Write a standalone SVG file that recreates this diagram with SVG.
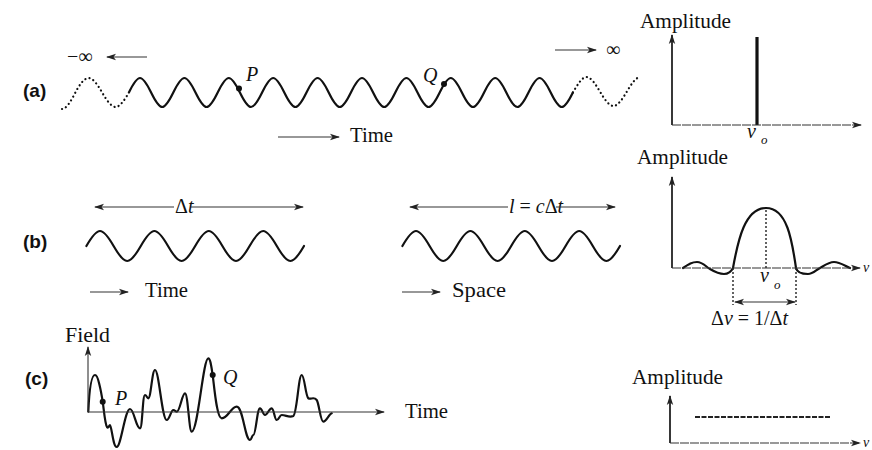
<svg xmlns="http://www.w3.org/2000/svg" width="872" height="450" viewBox="0 0 872 450">
<style>
.lbl{font-family:"Liberation Sans",Arial,sans-serif;font-weight:bold;font-size:19px;fill:#111}
.t{font-family:"Liberation Serif","Times New Roman",serif;font-size:21px;fill:#111}
.m{font-family:"Liberation Serif","Times New Roman",serif;font-size:20px;fill:#111}
.i{font-style:italic}
.sub{font-family:"Liberation Serif","Times New Roman",serif;font-size:13px;font-style:italic;fill:#111}
.edge{font-family:"Liberation Serif","Times New Roman",serif;font-size:14px;font-style:italic;fill:#111}
.wave{fill:none;stroke:#111;stroke-width:2.2;stroke-linecap:round;stroke-linejoin:round}
.dot{fill:none;stroke:#111;stroke-width:2.2;stroke-linecap:round;stroke-dasharray:0.1 4.2}
.ax{fill:none;stroke:#222;stroke-width:1.8}
.axh{fill:none;stroke:#333;stroke-width:1.2;stroke-dasharray:9 1}
.thin{fill:none;stroke:#333;stroke-width:1.1}
.vd{fill:none;stroke:#222;stroke-width:1.4;stroke-dasharray:2 2}
.pt{fill:#111}
</style>
<defs>
<marker id="ah" viewBox="0 0 10 8" refX="9" refY="4" markerWidth="10" markerHeight="8" markerUnits="userSpaceOnUse" orient="auto-start-reverse">
<path d="M0,0.8 L10,4 L0,7.2 L2.5,4z" fill="#222"/>
</marker>
</defs>

<g id="panel-a">
<text class="lbl" x="23" y="97">(a)</text>
<text class="m" x="67" y="63">−∞</text>
<text class="m" x="606" y="56">∞</text>
<path class="wave" d="M128.9,92.5 c3.62,-7.43 7.48,-14.5 11.1,-14.5
s7.48,7.07 11.1,14.5 s7.48,14.5 11.1,14.5 s7.48,-7.07 11.1,-14.5 s7.48,-14.5 11.1,-14.5
s7.48,7.07 11.1,14.5 s7.48,14.5 11.1,14.5 s7.48,-7.07 11.1,-14.5 s7.48,-14.5 11.1,-14.5
s7.48,7.07 11.1,14.5 s7.48,14.5 11.1,14.5 s7.48,-7.07 11.1,-14.5 s7.48,-14.5 11.1,-14.5
s7.48,7.07 11.1,14.5 s7.48,14.5 11.1,14.5 s7.48,-7.07 11.1,-14.5 s7.48,-14.5 11.1,-14.5
s7.48,7.07 11.1,14.5 s7.48,14.5 11.1,14.5 s7.48,-7.07 11.1,-14.5 s7.48,-14.5 11.1,-14.5
s7.48,7.07 11.1,14.5 s7.48,14.5 11.1,14.5 s7.48,-7.07 11.1,-14.5 s7.48,-14.5 11.1,-14.5
s7.48,7.07 11.1,14.5 s7.48,14.5 11.1,14.5 s7.48,-7.07 11.1,-14.5 s7.48,-14.5 11.1,-14.5
s7.48,7.07 11.1,14.5 s7.48,14.5 11.1,14.5 s7.48,-7.07 11.1,-14.5 s7.48,-14.5 11.1,-14.5
s7.48,7.07 11.1,14.5 s7.48,14.5 11.1,14.5 s7.48,-7.07 11.1,-14.5 s7.48,-14.5 11.1,-14.5
s7.48,7.07 11.1,14.5 s7.48,14.5 11.1,14.5 s7.48,-7.07 11.1,-14.5"/>
<path class="dot" d="M62,109 c4.36,0 9.02,-8.07 13.38,-16.5 s9.02,-14.5 13.38,-14.5 s9.02,7.07 13.38,14.5 s9.02,14.5 13.38,14.5 s9.02,-7.07 13.38,-14.5"/>
<path class="dot" d="M572.9,92.5 c4.4,-7.43 9.1,-15.5 13.5,-15.5 s9.1,7.07 13.5,14.5 s9.1,14.5 13.5,14.5 s9.1,-7.07 13.5,-14.5 s9.1,-14.5 13.5,-14.5"/>
<circle class="pt" cx="239" cy="88.5" r="3"/>
<circle class="pt" cx="444" cy="84" r="3"/>
<text class="m i" x="246" y="81">P</text>
<text class="m i" x="423" y="82">Q</text>
<text class="t" x="350" y="142" textLength="43" lengthAdjust="spacingAndGlyphs">Time</text>
</g>

<g id="spectrum-a">
<text class="t" x="640" y="28" textLength="91" lengthAdjust="spacingAndGlyphs">Amplitude</text>
<line x1="757" y1="37" x2="757" y2="125" stroke="#111" stroke-width="3.2"/>
<text class="m i" x="747" y="138">v</text>
<text class="sub" x="761" y="144">o</text>
</g>

<g id="panel-b">
<text class="lbl" x="23" y="248">(b)</text>
<path class="wave" d="M86.4,246 c4.435,-7.685 9.165,-15 13.6,-15
s9.165,7.315 13.6,15 s9.165,15 13.6,15 s9.165,-7.315 13.6,-15 s9.165,-15 13.6,-15
s9.165,7.315 13.6,15 s9.165,15 13.6,15 s9.165,-7.315 13.6,-15 s9.165,-15 13.6,-15
s9.165,7.315 13.6,15 s9.165,15 13.6,15 s9.165,-7.315 13.6,-15 s9.165,-15 13.6,-15
s9.165,7.315 13.6,15 s9.165,15 13.6,15 s9.165,-7.315 13.6,-15"/>
<path class="wave" d="M402.4,246 c4.435,-7.685 9.165,-15 13.6,-15
s9.165,7.315 13.6,15 s9.165,15 13.6,15 s9.165,-7.315 13.6,-15 s9.165,-15 13.6,-15
s9.165,7.315 13.6,15 s9.165,15 13.6,15 s9.165,-7.315 13.6,-15 s9.165,-15 13.6,-15
s9.165,7.315 13.6,15 s9.165,15 13.6,15 s9.165,-7.315 13.6,-15 s9.165,-15 13.6,-15
s9.165,7.315 13.6,15 s9.165,15 13.6,15 s9.165,-7.315 13.6,-15"/>
<text class="m" x="175" y="213">Δ<tspan class="i">t</tspan></text>
<text class="m" x="509" y="213"><tspan class="i">l</tspan> = <tspan class="i">c</tspan>Δ<tspan class="i">t</tspan></text>
<text class="t" x="145" y="297" textLength="43" lengthAdjust="spacingAndGlyphs">Time</text>
<text class="t" x="452" y="297" textLength="54" lengthAdjust="spacingAndGlyphs">Space</text>
</g>

<g id="spectrum-b">
<text class="t" x="637" y="164" textLength="91" lengthAdjust="spacingAndGlyphs">Amplitude</text>
<path class="wave" d="M683,268 C689,264 692,262 697,262 C703,262 706,267 710,269 C715,272 719,274 724,274 C728,274 731,272 733,268 C738,240 745,208 766,208 C787,208 792,240 796,268 C797,272 800,274 808,274 C813,274 816,270 820,268 C825,265 829,262 834,262 C840,262 845,266 850,268"/>
<line class="vd" x1="766" y1="210" x2="766" y2="268"/>
<line class="vd" x1="733" y1="268" x2="733" y2="305"/>
<line class="vd" x1="796" y1="268" x2="796" y2="305"/>
<text class="m i" x="760" y="282">v</text>
<text class="sub" x="774" y="289">o</text>
<text class="m" x="711" y="325">Δ<tspan class="i">v</tspan> = 1/Δ<tspan class="i">t</tspan></text>
<text class="edge" x="863" y="272">v</text>
</g>

<g id="panel-c">
<text class="lbl" x="25" y="385">(c)</text>
<text class="t" x="65" y="342" textLength="45" lengthAdjust="spacingAndGlyphs">Field</text>
<path class="wave" d="M88.3,411.7 C89.3,390 91.5,375 95,375 C97.5,375 98.5,381 99.5,385 C100.5,389 101.8,396 102.7,401.7 C103.8,409 105,424 107,427 C108.5,429 109,425 110,425 C111.5,425 113,447 116.7,447 C121,447 125,409 130,409 C134,409 136,428.3 140,428.3 C142.5,428.3 142.5,395 145,395 C146.5,395 147,398.3 148.3,398.3 C151,398.3 152,370 155,370 C159,370 162,420 166.7,420 C169.5,420 171,410 173.3,410 C175,410 175.5,411.7 176.7,411.7 C180,411.7 182,393.3 185,393.3 C188,393.3 189,431.7 191.7,431.7 C198,431.7 203,358.3 208.3,358.3 C210.5,358.3 211.5,368 212.7,375 C214.5,390 217,418.3 221.7,418.3 C228,418.3 231,406.7 236.7,406.7 C243,406.7 245,440 250,440 C251.5,440 252,435 253.3,435 C256,435 257,408.3 260,408.3 C262,408.3 263,415 265,415 C267.5,415 269,408.3 271.7,408.3 C274,408.3 274.5,420 276.7,420 C279,420 279.5,415 281.7,415 C286,415 289,418 293.3,416 C297,414 298.5,375 301.7,375 C304.5,375 305.5,396 308.3,398.3 C311,400 313.5,396 316.7,400 C319,403 320.5,421.7 323.3,421.7 C326.5,421.7 329,414 331.7,413.3"/>
<circle class="pt" cx="102.7" cy="401.7" r="3"/>
<circle class="pt" cx="212.7" cy="375" r="3"/>
<text class="m i" x="115" y="405">P</text>
<text class="m i" x="223" y="384">Q</text>
<text class="t" x="405" y="418" textLength="43" lengthAdjust="spacingAndGlyphs">Time</text>
</g>

<g id="spectrum-c">
<text class="t" x="632" y="384" textLength="91" lengthAdjust="spacingAndGlyphs">Amplitude</text>
<line x1="695" y1="417" x2="830" y2="417" stroke="#222" stroke-width="2" stroke-dasharray="5 1.5"/>
<text class="edge" x="863" y="447">v</text>
</g>

<g id="connectors">
<line class="thin" x1="147" y1="57" x2="107" y2="57" marker-end="url(#ah)"/>
<line class="thin" x1="555" y1="50" x2="596" y2="50" marker-end="url(#ah)"/>
<line class="thin" x1="278" y1="137" x2="339" y2="137" marker-end="url(#ah)"/>
<line class="ax" x1="672" y1="125" x2="672" y2="35" marker-end="url(#ah)"/>
<line class="axh" x1="672" y1="125" x2="861" y2="125" marker-end="url(#ah)"/>
<line class="thin" x1="174" y1="207" x2="95" y2="207" marker-end="url(#ah)"/>
<line class="thin" x1="191" y1="207" x2="303" y2="207" marker-end="url(#ah)"/>
<line class="thin" x1="508" y1="207" x2="410" y2="207" marker-end="url(#ah)"/>
<line class="thin" x1="556" y1="207" x2="615" y2="207" marker-end="url(#ah)"/>
<line class="thin" x1="90" y1="292" x2="128" y2="292" marker-end="url(#ah)"/>
<line class="thin" x1="402" y1="292" x2="440" y2="292" marker-end="url(#ah)"/>
<line class="ax" x1="672" y1="268" x2="672" y2="177" marker-end="url(#ah)"/>
<line class="axh" x1="672" y1="268" x2="860" y2="268" marker-end="url(#ah)"/>
<line class="thin" x1="735" y1="302" x2="795" y2="302" marker-start="url(#ah)" marker-end="url(#ah)"/>
<line class="thin" x1="88" y1="412" x2="88" y2="347" marker-end="url(#ah)"/>
<line class="thin" x1="88" y1="412" x2="384" y2="412" marker-end="url(#ah)"/>
<line class="ax" x1="670" y1="443" x2="670" y2="396" marker-end="url(#ah)"/>
<line class="axh" x1="670" y1="443" x2="860" y2="443" marker-end="url(#ah)"/>
</g>
</svg>
